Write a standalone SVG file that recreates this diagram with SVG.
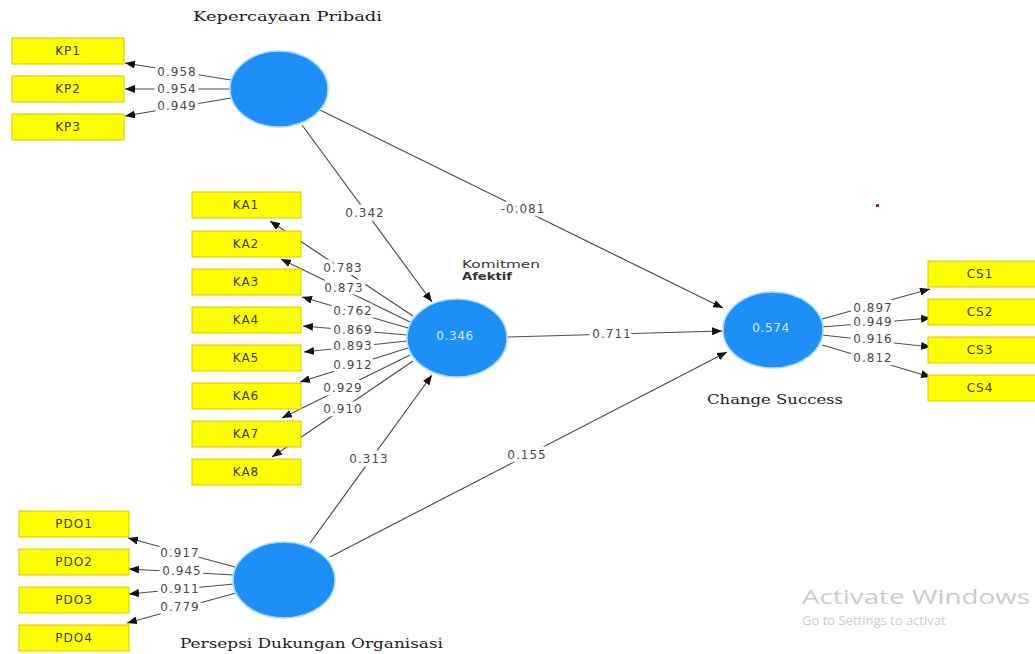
<svg xmlns="http://www.w3.org/2000/svg" width="1035" height="654" viewBox="0 0 1035 654">
<style>
.bg{fill:#ffffff}
.ln{stroke:#4d4d4d;stroke-width:1.2;fill:none}
.lb{font-family:"DejaVu Sans",sans-serif;font-size:12px;fill:#4a4a4a;letter-spacing:1px;text-anchor:middle;dominant-baseline:central;stroke:#ffffff;stroke-width:7px;paint-order:stroke;stroke-linejoin:round}
.box{fill:#ffff00;stroke:#d2c800;stroke-width:1}
.bt{font-family:"DejaVu Sans",sans-serif;font-size:12px;fill:#3a3a3a;letter-spacing:1px;text-anchor:middle;dominant-baseline:central}
.lv{fill:#1e8ff6;stroke:#a6dbff;stroke-width:1.5}
.lvt{font-family:"DejaVu Sans",sans-serif;font-size:12px;fill:#d6ebff;letter-spacing:0.6px;text-anchor:middle;dominant-baseline:central}
.ttl{font-family:"DejaVu Serif","Liberation Serif",serif;font-size:13px;fill:#222222}
.sm{font-family:"DejaVu Sans",sans-serif;font-size:10px;fill:#333333}
.wm{font-family:"Open Sans","DejaVu Sans",sans-serif;fill:#cccccc}
</style>
<defs>
<marker id="ah" viewBox="0 0 10 8" refX="10" refY="4" markerWidth="10" markerHeight="8" markerUnits="userSpaceOnUse" orient="auto">
<path d="M0,0 L10,4 L0,8 Z" fill="#111111"/>
</marker>
</defs>
<rect class="bg" x="0" y="0" width="1035" height="654"/>
<g id="connectors">
<line class="ln" x1="231" y1="80" x2="125" y2="63" marker-end="url(#ah)"/>
<line class="ln" x1="230" y1="89" x2="125" y2="89" marker-end="url(#ah)"/>
<line class="ln" x1="231" y1="98" x2="125" y2="116" marker-end="url(#ah)"/>
<text class="lb" x="177" y="72">0.958</text>
<text class="lb" x="177" y="89">0.954</text>
<text class="lb" x="177" y="106">0.949</text>
<line class="ln" x1="413" y1="316" x2="270" y2="221" marker-end="url(#ah)"/>
<line class="ln" x1="410" y1="322" x2="281" y2="259" marker-end="url(#ah)"/>
<line class="ln" x1="408" y1="328" x2="302" y2="297" marker-end="url(#ah)"/>
<line class="ln" x1="407" y1="335" x2="303" y2="326" marker-end="url(#ah)"/>
<line class="ln" x1="407" y1="341" x2="304" y2="352" marker-end="url(#ah)"/>
<line class="ln" x1="408" y1="348" x2="300" y2="382" marker-end="url(#ah)"/>
<line class="ln" x1="410" y1="355" x2="282" y2="418" marker-end="url(#ah)"/>
<line class="ln" x1="413" y1="361" x2="272" y2="457" marker-end="url(#ah)"/>
<text class="lb" x="343" y="268">0.783</text>
<text class="lb" x="344" y="288">0.873</text>
<text class="lb" x="353" y="311">0.762</text>
<text class="lb" x="353" y="330">0.869</text>
<text class="lb" x="353" y="346">0.893</text>
<text class="lb" x="353" y="365">0.912</text>
<text class="lb" x="343" y="388">0.929</text>
<text class="lb" x="343" y="409">0.910</text>
<line class="ln" x1="235" y1="567" x2="128" y2="538" marker-end="url(#ah)"/>
<line class="ln" x1="234" y1="575" x2="129" y2="569" marker-end="url(#ah)"/>
<line class="ln" x1="234" y1="584" x2="129" y2="594" marker-end="url(#ah)"/>
<line class="ln" x1="236" y1="593" x2="127" y2="623" marker-end="url(#ah)"/>
<text class="lb" x="180" y="553">0.917</text>
<text class="lb" x="182" y="571">0.945</text>
<text class="lb" x="180" y="589">0.911</text>
<text class="lb" x="180" y="607">0.779</text>
<line class="ln" x1="822" y1="319" x2="930" y2="289" marker-end="url(#ah)"/>
<line class="ln" x1="822" y1="327" x2="931" y2="318" marker-end="url(#ah)"/>
<line class="ln" x1="822" y1="335" x2="931" y2="347" marker-end="url(#ah)"/>
<line class="ln" x1="822" y1="345" x2="931" y2="377" marker-end="url(#ah)"/>
<text class="lb" x="873" y="308">0.897</text>
<text class="lb" x="873" y="322">0.949</text>
<text class="lb" x="873" y="339">0.916</text>
<text class="lb" x="873" y="358">0.812</text>
<line class="ln" x1="302" y1="125" x2="432" y2="302" marker-end="url(#ah)"/>
<line class="ln" x1="320" y1="110" x2="723" y2="308" marker-end="url(#ah)"/>
<line class="ln" x1="508" y1="337" x2="722" y2="331" marker-end="url(#ah)"/>
<line class="ln" x1="310" y1="543" x2="432" y2="375" marker-end="url(#ah)"/>
<line class="ln" x1="330" y1="557" x2="727" y2="352" marker-end="url(#ah)"/>
<text class="lb" x="365" y="213">0.342</text>
<text class="lb" x="523" y="209">-0.081</text>
<text class="lb" x="612" y="334">0.711</text>
<text class="lb" x="369" y="459">0.313</text>
<text class="lb" x="527" y="455">0.155</text>
</g>
<g id="KP">
<ellipse class="lv" cx="279" cy="89" rx="49" ry="38"/>
<text class="ttl" x="193" y="21" textLength="189" lengthAdjust="spacingAndGlyphs">Kepercayaan Pribadi</text>
</g>
<g id="KP1"><rect class="box" x="12" y="38" width="112" height="26"/><text class="bt" x="68" y="51">KP1</text></g>
<g id="KP2"><rect class="box" x="12" y="76" width="112" height="26"/><text class="bt" x="68" y="89">KP2</text></g>
<g id="KP3"><rect class="box" x="12" y="114" width="112" height="26"/><text class="bt" x="68" y="127">KP3</text></g>
<g id="KA">
<ellipse class="lv" cx="457" cy="338" rx="50" ry="39"/>
<text class="lvt" x="455" y="336">0.346</text>
<text class="sm" x="462" y="268" textLength="78" lengthAdjust="spacingAndGlyphs">Komitmen</text>
<text class="sm" x="462" y="280" font-weight="bold" textLength="50" lengthAdjust="spacingAndGlyphs">Afektif</text>
</g>
<g id="KA1"><rect class="box" x="192" y="192" width="109" height="26"/><text class="bt" x="246" y="205">KA1</text></g>
<g id="KA2"><rect class="box" x="192" y="231" width="109" height="26"/><text class="bt" x="246" y="244">KA2</text></g>
<g id="KA3"><rect class="box" x="192" y="269" width="109" height="26"/><text class="bt" x="246" y="282">KA3</text></g>
<g id="KA4"><rect class="box" x="192" y="307" width="109" height="26"/><text class="bt" x="246" y="320">KA4</text></g>
<g id="KA5"><rect class="box" x="192" y="345" width="109" height="26"/><text class="bt" x="246" y="358">KA5</text></g>
<g id="KA6"><rect class="box" x="192" y="383" width="109" height="26"/><text class="bt" x="246" y="396">KA6</text></g>
<g id="KA7"><rect class="box" x="192" y="421" width="109" height="26"/><text class="bt" x="246" y="434">KA7</text></g>
<g id="KA8"><rect class="box" x="192" y="459" width="109" height="26"/><text class="bt" x="246" y="472">KA8</text></g>
<g id="PDO">
<ellipse class="lv" cx="284" cy="580" rx="51" ry="38"/>
<text class="ttl" x="180" y="648" textLength="263" lengthAdjust="spacingAndGlyphs">Persepsi Dukungan Organisasi</text>
</g>
<g id="PDO1"><rect class="box" x="19" y="511" width="110" height="26"/><text class="bt" x="74" y="524">PDO1</text></g>
<g id="PDO2"><rect class="box" x="19" y="549" width="110" height="26"/><text class="bt" x="74" y="562">PDO2</text></g>
<g id="PDO3"><rect class="box" x="19" y="587" width="110" height="26"/><text class="bt" x="74" y="600">PDO3</text></g>
<g id="PDO4"><rect class="box" x="19" y="625" width="110" height="26"/><text class="bt" x="74" y="638">PDO4</text></g>
<g id="CS">
<ellipse class="lv" cx="773" cy="330" rx="50" ry="38"/>
<text class="lvt" x="771" y="328">0.574</text>
<text class="ttl" x="707" y="404" textLength="136" lengthAdjust="spacingAndGlyphs">Change Success</text>
</g>
<g id="CS1"><rect class="box" x="928" y="261" width="112" height="26"/><text class="bt" x="980" y="274">CS1</text></g>
<g id="CS2"><rect class="box" x="928" y="299" width="112" height="26"/><text class="bt" x="980" y="312">CS2</text></g>
<g id="CS3"><rect class="box" x="928" y="337" width="112" height="26"/><text class="bt" x="980" y="350">CS3</text></g>
<g id="CS4"><rect class="box" x="928" y="375" width="112" height="26"/><text class="bt" x="980" y="388">CS4</text></g>
<rect x="876" y="204" width="3" height="3" fill="#d01030"/>
<text class="wm" x="802" y="604" font-size="20" textLength="228" lengthAdjust="spacingAndGlyphs">Activate Windows</text>
<text class="wm" x="802" y="625" font-size="13">Go to Settings to activat</text>
</svg>
